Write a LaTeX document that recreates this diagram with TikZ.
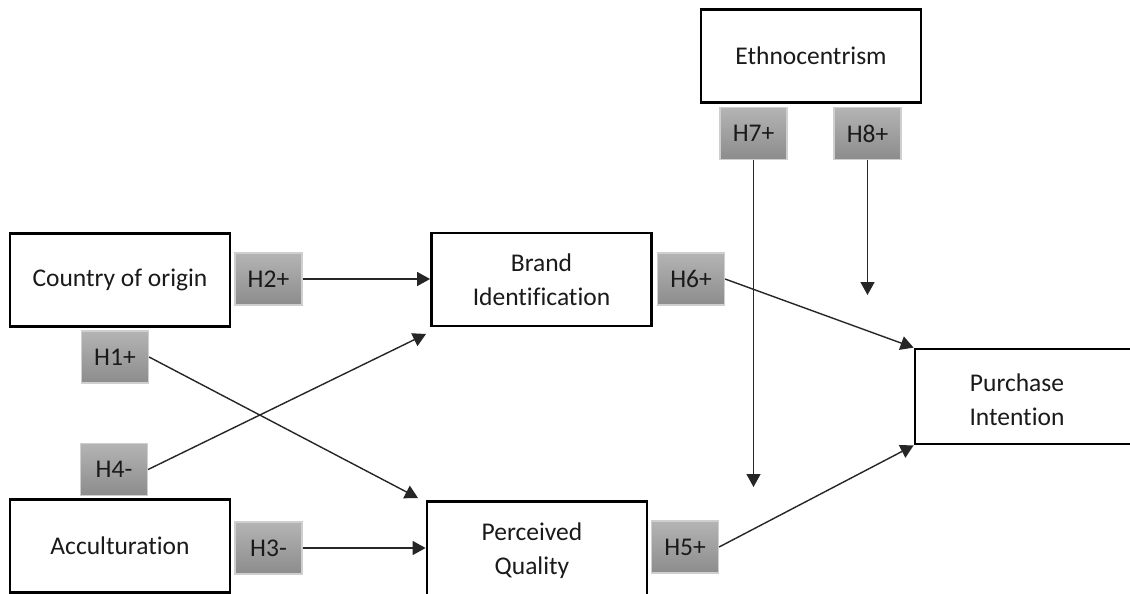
\documentclass[tikz,border=0pt]{standalone}
\usepackage{fontspec}
\setmainfont{Carlito}[Ligatures=NoCommon]
\usetikzlibrary{arrows.meta}
\definecolor{txt}{HTML}{1A1A1A}
\definecolor{hyptop}{HTML}{B4B4B4}
\definecolor{hypbot}{HTML}{8C8C8C}
\definecolor{hypedge}{HTML}{CFCFCF}
\tikzset{
  construct/.style={draw=black, line width=2.8pt, fill=white, minimum width=220pt,
    minimum height=93pt, inner sep=0pt, align=center, text=txt,
    font=\fontsize{25.5}{34}\selectfont},
  plaintext/.style={inner sep=0pt, align=center, text=txt,
    font=\fontsize{25.5}{34}\selectfont},
  hyp/.style={draw=hypedge, line width=1.2pt, top color=hyptop, bottom color=hypbot,
    minimum width=67pt, minimum height=52pt, inner sep=0pt, text=txt,
    font=\fontsize{25.5}{28}\selectfont},
  path/.style={draw=black!85, line width=1.4pt, -{Triangle[length=13pt,width=14pt]}}
}
\begin{document}
\begin{tikzpicture}[x=1pt, y=-1pt]
  \clip (0,0) rectangle (1130,594);
  \fill[white] (0,0) rectangle (1130,594);

  % constructs
  \node[construct] (coo) at (120,280) {Country of origin};
  \node[construct] (acc) at (120,546) {Acculturation};
  \node[construct] (brand) at (541.5,279.5) {Brand\\Identification};
  \node[construct, minimum height=95pt] (pq) at (537,549) {};
  \node[plaintext] (pqtext) at (532,551) {Perceived\\Quality};
  \node[construct] (eth) at (811,56) {Ethnocentrism};
  \node[construct, minimum width=225pt, minimum height=95pt] (pi) at (1027.5,396.5) {};
  \node[plaintext] (pitext) at (1017,399.5) {Purchase\\Intention};

  % hypothesis tags
  \node[hyp] (h2) at (268.5,279) {H2+};
  \node[hyp] (h1) at (115,357) {H1+};
  \node[hyp] (h4) at (114,469.5) {H4-};
  \node[hyp] (h3) at (268.5,548) {H3-};
  \node[hyp] (h6) at (691,279) {H6+};
  \node[hyp] (h5) at (685,547) {H5+};
  \node[hyp] (h7) at (753.5,133.5) {H7+};
  \node[hyp] (h8) at (867.5,133.5) {H8+};

  % free ends of the paths
  \coordinate (t1) at (418,498);
  \coordinate (t4) at (426,334);
  \coordinate (t7) at (753,487);
  \coordinate (t8) at (868,295);

  % paths
  \draw[path] (h2.east) -- (h2.east -| brand.west);
  \draw[path] (h3.east) -- (h3.east -| pq.west);
  \draw[path] (h1.east) -- (t1);
  \draw[path] (h4.east) -- (t4);
  \draw[path] (h6.east) -- (pi.north west);
  \draw[path] (h5.east) -- (pi.south west);
  \draw[path] (h7.south) -- (h7.south |- t7);
  \draw[path] (h8.south) -- (h8.south |- t8);
\end{tikzpicture}
\end{document}
